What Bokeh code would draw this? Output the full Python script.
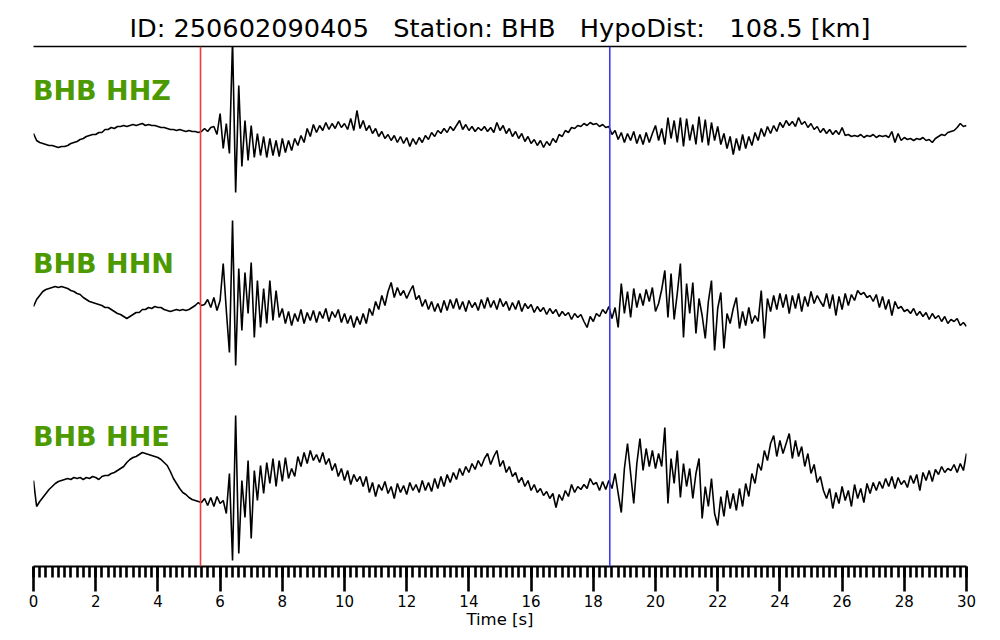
import numpy as np
from bokeh.plotting import figure
from bokeh.models import Range1d, LinearAxis, FixedTicker, Span, Label
from bokeh.embed import file_html
from bokeh.resources import INLINE

event_id = "250602090405"
station = "BHB"
hypo_dist_km = 108.5
channels = ["HHZ", "HHN", "HHE"]
p_pick_s = 5.37
s_pick_s = 18.53
dt = 0.1

# trace amplitudes (screen-scaled), one row per second (t = k.0 ... k.9), last value at 30.0 s
hhz = [
    -3, -10, -12, -13, -14, -15, -15, -16, -17, -16,
    -16, -15, -13, -12, -11, -9, -8, -6, -5, -4,
    -4, -2, -2, 1, 1, 3, 2, 4, 4, 5,
    4, 5, 6, 5, 6, 7, 5, 6, 5, 5,
    4, 3, 3, 2, 1, 1, 0, 1, 0, -1,
    0, -1, -1, -2, -1, 2, -1, 3, 4, -4,
    17, -18, 7, -23, 90, -62, 45, -36, 10, -30,
    5, -27, -3, -25, -6, -27, -8, -25, -10, -26,
    -8, -22, -10, -20, -8, -15, -5, -12, 2, -6,
    6, -2, 5, 0, 8, 1, 7, 2, 9, 3,
    7, 1, 12, 0, 20, 2, 10, 0, 5, -3,
    2, -6, -1, -8, -4, -10, -5, -12, -6, -13,
    -7, -16, -8, -14, -7, -12, -5, -9, -2, -6,
    0, -3, 2, -2, 4, 0, 5, 10, 1, 6,
    0, 4, -1, 3, 0, 4, -1, 3, -2, 8,
    0, 5, -3, 2, -6, -1, -8, -3, -11, -6,
    -13, -9, -15, -10, -17, -11, -15, -8, -12, -4,
    -6, 0, -2, 3, 2, 5, 4, 7, 5, 8,
    6, 7, 4, 6, 3, 4, -4, 0, -9, -2,
    -12, -3, -10, -1, -13, -4, -14, -2, -12, -3,
    5, -10, 2, -14, 13, -8, 10, -12, 13, -16,
    12, -10, 6, -14, 14, -12, 11, -15, 8, -10,
    4, -14, -3, -18, -6, -24, -8, -20, -4, -18,
    -6, -15, -2, -10, 2, -6, 4, -3, 5, -1,
    8, 3, 10, 5, 9, 4, 13, 6, 9, 3,
    7, 1, 4, -2, 2, -3, 1, -4, 0, -4,
    3, -5, -4, -6, -5, -6, -4, -7, -5, -6,
    -4, -7, -5, -6, -5, -7, -1, -12, -3, -10,
    -7, -9, -8, -10, -8, -9, -7, -10, -9, -12,
    -8, -6, -4, -5, -2, -1, 0, 3, 7, 4,
    5,
]
hhn = [
    -3, 4, 8, 12, 14, 15, 16, 17, 16, 17,
    16, 15, 13, 12, 10, 9, 6, 4, 2, 1,
    0, -1, -2, -4, -4, -6, -8, -10, -11, -13,
    -15, -13, -11, -9, -9, -6, -6, -4, -5, -3,
    -4, -4, -6, -7, -8, -7, -6, -7, -6, -7,
    -6, -4, -2, 1, -2, -1, 4, -4, 6, -7,
    3, 40, -7, -49, 83, -62, 35, -27, 31, -10,
    41, -34, 23, -24, 15, -20, 23, -17, 13, -14,
    -5, -20, -8, -22, -10, -18, -6, -20, -9, -17,
    -7, -19, -8, -15, -5, -18, -8, -14, -6, -19,
    -10, -20, -12, -24, -13, -21, -10, -20, -5, -12,
    2, -6, 8, -2, 12, 21, 6, 16, 8, 13,
    5, 12, 18, 4, 8, -3, 4, -6, 2, -8,
    0, -9, 3, -7, 4, -5, 5, -6, 2, -8,
    3, -4, 1, -7, 4, -5, 6, -4, 3, -6,
    5, -3, 2, -7, 1, -6, 3, -8, 0, -5,
    -1, -9, -3, -8, -4, -11, -5, -10, -6, -13,
    -8, -12, -9, -16, -10, -14, -11, -18, -24, -13,
    -18, -10, -13, -6, -10, -3, -15, -4, -24, 20,
    -10, 12, -14, 15, -4, 10, -2, 14, 2, 16,
    -8, 0, 14, 33, -14, 30, -16, 10, 40, -34,
    20, -10, 21, -30, 5, -12, -35, 2, 23, -47,
    -5, 11, -45, -10, -20, -5, 6, -25, -8, -22,
    -4, -20, -12, -18, 13, -35, 5, -8, 8, -6,
    10, -4, 9, -10, 8, -5, 10, -8, 7, -3,
    12, 0, 8, 2, -3, 10, -5, 9, -12, 7,
    -6, 10, -2, 9, 3, 13, 9, 11, 6, 8,
    2, 9, -4, 7, -6, 4, -12, 2, -5, -3,
    -8, -6, -10, -5, -12, -8, -13, -9, -16, -10,
    -15, -12, -18, -13, -20, -16, -18, -15, -22, -19,
    -23,
]
hhe = [
    -2, -28, -23, -19, -15, -11, -8, -5, -3, -2,
    -1, 0, -1, 1, 0, 1, -1, 1, 0, 2,
    1, -1, 2, 3, 3, 5, 6, 8, 10, 12,
    16, 19, 21, 22, 24, 26, 25, 24, 23, 22,
    21, 19, 16, 13, 7, 0, -5, -10, -14, -16,
    -19, -21, -22, -23, -24, -20, -27, -19, -28, -18,
    -25, -22, -35, 5, -82, 63, -75, -2, -39, 18,
    -60, 8, -22, 13, -15, 16, -5, 20, -8, 18,
    -3, 21, 0, 10, 2, 22, 12, 26, 15, 28,
    18, 24, 16, 26, 14, 20, 8, 15, 2, 10,
    -2, 8, -6, 4, -3, 2, -8, 2, -14, -4,
    -18, -6, -12, -3, -15, -8, -20, -5, -14, -7,
    -16, -4, -12, -6, -14, -2, -12, -4, -13, 0,
    -10, 2, -8, 4, -4, 6, -1, 10, 3, 12,
    6, 15, 9, 18, 12, 20, 25, 14, 22, 28,
    12, 18, 6, 12, 2, 6, -4, 1, -8, -2,
    -12, -6, -14, -10, -17, -13, -20, -15, -29, -16,
    -22, -12, -18, -6, -14, -8, -11, -6, -10, 0,
    -6, -4, -12, -3, -11, -2, -10, 5, -15, -34,
    10, 35, 5, -25, 15, 40, 8, 30, 12, 28,
    10, 25, 12, 51, -25, 20, -5, 28, -19, 15,
    -8, 10, -20, 5, 20, -40, -8, -28, 0, -35,
    -47, -18, -38, -12, -30, -15, -32, -10, -28, -5,
    -18, 5, -5, 15, 8, 28, 18, 35, 43, 22,
    38, 25, 35, 45, 20, 38, 22, 32, 12, 25,
    5, 14, -4, 2, -12, -20, -10, -30, -14, -25,
    -8, -22, -12, -28, -6, -20, -10, -24, -5, -15,
    -4, -12, -3, -10, 0, -8, 2, -10, 1, -6,
    -2, -9, 3, -5, 4, -12, 6, -2, 8, -3,
    9, 4, 12, 6, 10, 8, 14, 6, 15, 8,
    25,
]
traces = [hhz, hhn, hhe]

major_ticks = list(range(0, 31, 2))
minor_ticks = [round(i * 0.2, 1) for i in range(0, 151)]

# layout (not data)
trace_offsets = [436, 263, 88]
label_baselines = [476, 303, 130]
GREEN = "#4c9a00"
GAP = "\u00a0\u00a0\u00a0"

p = figure(width=1000, height=640, output_backend="svg", toolbar_location=None,
           x_range=Range1d(0, 30), y_range=Range1d(0, 520),
           x_axis_location=None, y_axis_location=None,
           min_border_left=33, min_border_right=34, min_border_top=46, min_border_bottom=74)
p.grid.visible = False
p.outline_line_color = None
p.background_fill_color = "white"
p.border_fill_color = "white"

p.title.text = f"ID: {event_id}{GAP}Station: {station}{GAP}HypoDist:{GAP}{hypo_dist_km} [km]"
p.title.align = "center"
p.title.text_font = "DejaVu Sans"
p.title.text_font_size = "25.6px"
p.title.text_font_style = "normal"
p.title.text_color = "black"
p.title.standoff = 8

top_axis = LinearAxis(ticker=FixedTicker(ticks=[]), major_label_text_font_size="0px",
                      major_tick_line_color=None, minor_tick_line_color=None,
                      axis_line_width=1.5, axis_line_color="black")
p.add_layout(top_axis, "above")

xaxis = LinearAxis(ticker=FixedTicker(ticks=major_ticks, minor_ticks=minor_ticks),
                   axis_label="Time [s]")
xaxis.axis_line_width = 2
xaxis.axis_line_color = "black"
xaxis.major_tick_in = 0
xaxis.major_tick_out = 25
xaxis.minor_tick_in = 0
xaxis.minor_tick_out = 11
xaxis.major_tick_line_width = 2.6
xaxis.minor_tick_line_width = 2.6
xaxis.major_tick_line_color = "black"
xaxis.minor_tick_line_color = "black"
xaxis.major_label_text_font = "DejaVu Sans"
xaxis.major_label_text_font_size = "15px"
xaxis.major_label_text_color = "black"
xaxis.major_label_standoff = 3
xaxis.axis_label_text_font = "DejaVu Sans"
xaxis.axis_label_text_font_size = "16.5px"
xaxis.axis_label_text_font_style = "normal"
xaxis.axis_label_text_color = "black"
xaxis.axis_label_standoff = 0
p.add_layout(xaxis, "below")

for ch, tr, off, lb in zip(channels, traces, trace_offsets, label_baselines):
    t = np.arange(len(tr)) * dt
    y = off + np.array(tr, dtype=float)
    p.line(t, y, line_color="black", line_width=1.6)
    p.add_layout(Label(x=-0.02, y=lb, text=f"{station} {ch}", text_font="DejaVu Sans",
                       text_font_size="27px", text_font_style="bold", text_color=GREEN,
                       text_baseline="alphabetic"))

p.add_layout(Span(location=p_pick_s, dimension="height", line_color="#f03c3c", line_width=1.6))
p.add_layout(Span(location=s_pick_s, dimension="height", line_color="#3c3cf0", line_width=1.6))

open("out.html", "w").write(file_html(p, INLINE))
